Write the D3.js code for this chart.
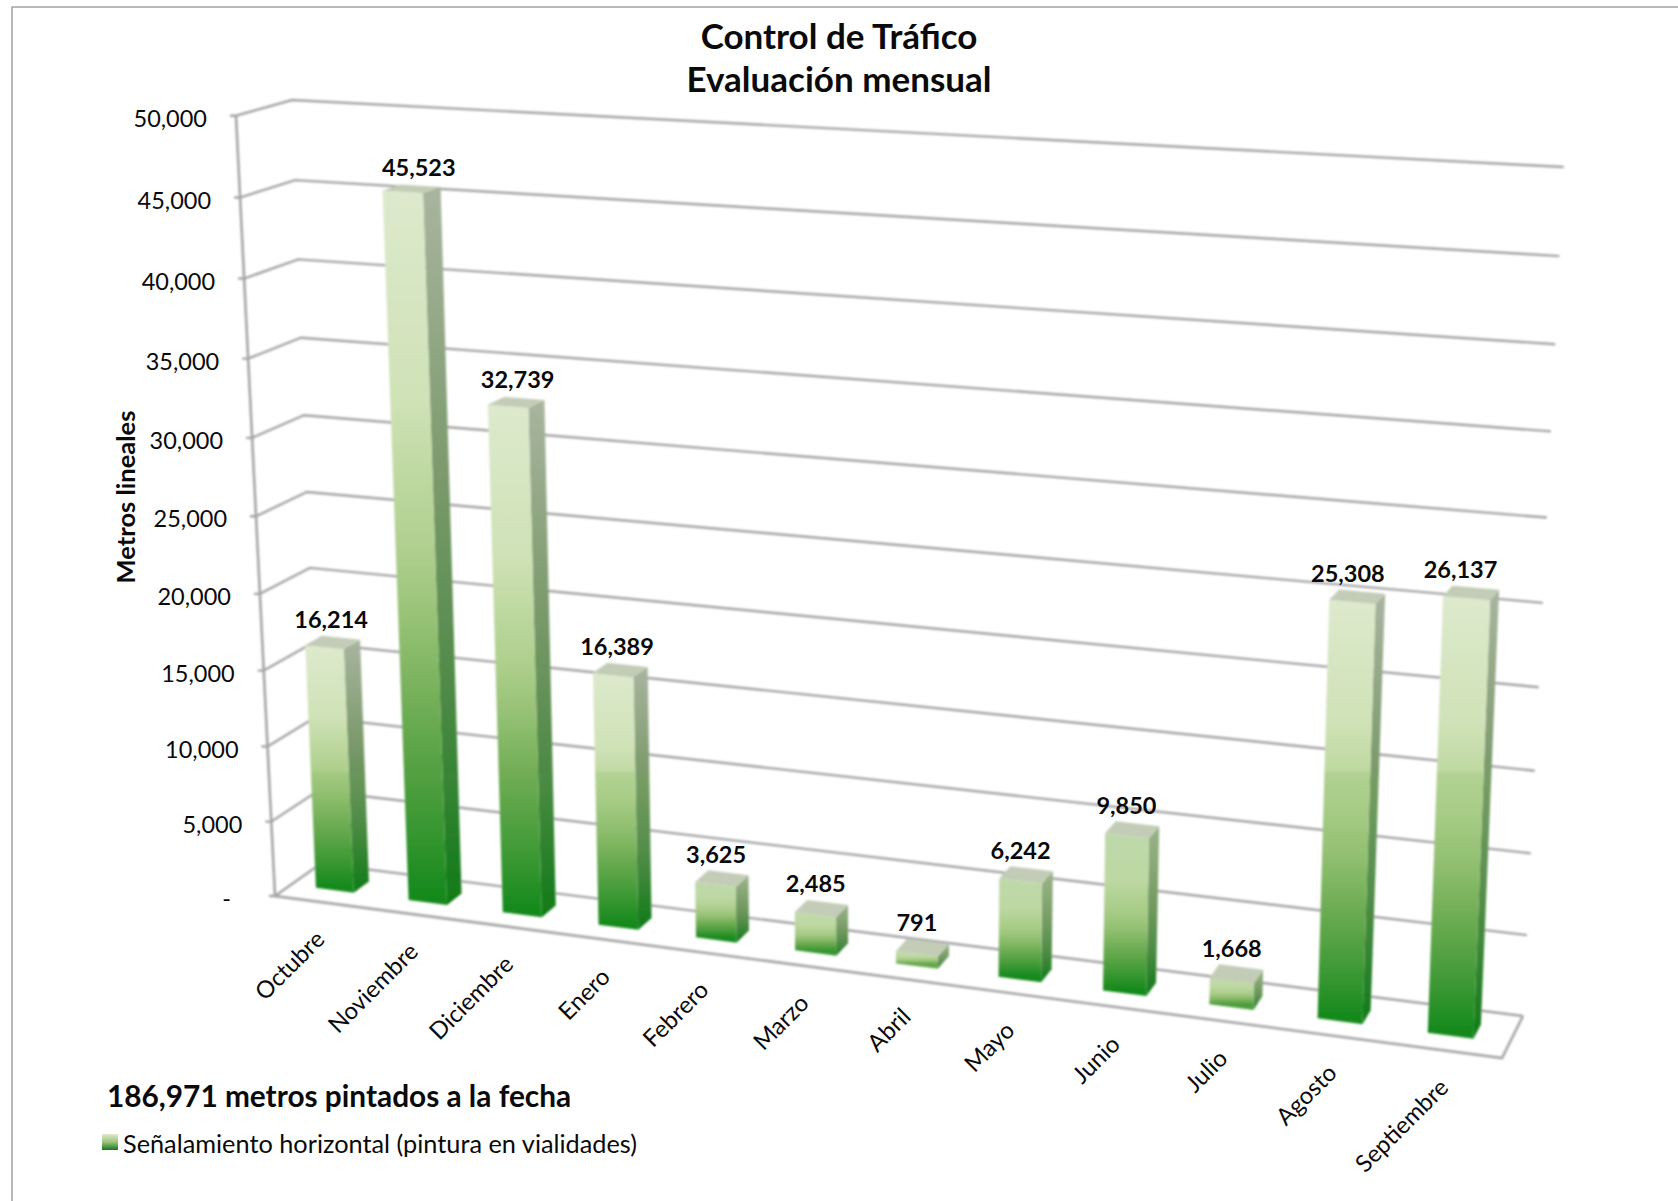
<!DOCTYPE html>
<html>
<head>
<meta charset="utf-8">
<title>Control de Tráfico</title>
<script src="https://cdnjs.cloudflare.com/ajax/libs/d3/7.8.5/d3.min.js"></script>
<style>
  html, body { margin: 0; padding: 0; background: #fff; }
  text { font-family: Lato, "Open Sans", sans-serif; fill: #0a0a0a; }
</style>
</head>
<body>
<script>
// data
var months = ["Octubre", "Noviembre", "Diciembre", "Enero", "Febrero", "Marzo", "Abril", "Mayo", "Junio", "Julio", "Agosto", "Septiembre"];
var metros = [16214, 45523, 32739, 16389, 3625, 2485, 791, 6242, 9850, 1668, 25308, 26137];
var yTicks = [0, 5000, 10000, 15000, 20000, 25000, 30000, 35000, 40000, 45000, 50000];

var width = 1678, height = 1201;

// corners of the 3d box on screen: F/B front/back, L/R left/right, T/B top/bottom
var FLT = [236, 115.7], BLT = [292, 100], FRT = [1533.6, 187], BRT = [1563.6, 167],
  FLB = [275, 896], BLB = [321, 863.5], FRB = [1502, 1058], BRB = [1523, 1016];

var uScale = d3.scaleBand().domain(months).range([-0.002, 0.998]).paddingInner(0.59).paddingOuter(0.295);
var vScale = d3.scaleLinear().domain([0, 50000]).range([0, 1]);
var barDepth = [0.35, 0.69];

// perspective squeeze along an axis
function warp(t, k) {
  return t / (1 + k * (1 - t));
}

function lerp(a, b, t) {
  return [a[0] + (b[0] - a[0]) * t, a[1] + (b[1] - a[1]) * t];
}

// u along months, v up the value axis, d from front to back
function project(u, v, d) {
  var fu = warp(u, 0.11), fv = warp(v, 0.055);
  var bottom = lerp(lerp(FLB, FRB, fu), lerp(BLB, BRB, fu), d);
  var top = lerp(lerp(FLT, FRT, fu), lerp(BLT, BRT, fu), d);
  return lerp(bottom, top, fv);
}

var svg = d3.select("body").append("svg")
  .attr("width", width)
  .attr("height", height)
  .style("display", "block");

var defs = svg.append("defs");
defs.append("filter")
  .attr("id", "soft")
  .attr("filterUnits", "userSpaceOnUse")
  .attr("x", 0).attr("y", 0).attr("width", width).attr("height", height)
  .append("feGaussianBlur")
  .attr("stdDeviation", 0.8);

// outer frame, only top and left show
svg.append("path")
  .attr("d", d3.line()([[12, height], [12, 7], [width, 7]]))
  .attr("fill", "none")
  .attr("stroke", "#a3a3a3")
  .attr("stroke-width", 1.5);

var chart = svg.append("g").attr("filter", "url(#soft)");
var line = d3.line();
var gridColor = "#a4a4a4";

// walls and floor
yTicks.forEach(function (t) {
  var v = vScale(t);
  chart.append("path")
    .attr("d", line([[project(0, v, 0)[0] - 6, project(0, v, 0)[1]], project(0, v, 0), project(0, v, 1), project(1, v, 1)]))
    .attr("fill", "none")
    .attr("stroke", gridColor)
    .attr("stroke-width", 2.4);
});
chart.append("path")
  .attr("d", line([FLT, FLB, FRB, BRB]))
  .attr("fill", "none")
  .attr("stroke", gridColor)
  .attr("stroke-width", 2.6);

// bars colour: pale at the top, green at the foot
var frontRamp = d3.scaleLinear()
  .domain([0, 0.3, 0.55, 0.75, 1])
  .range(["#dde9cd", "#cfe2b6", "#a8cb85", "#6aa94f", "#14891c"]);
var sideRamp = d3.scaleLinear()
  .domain([0, 0.4, 0.7, 1])
  .range(["#a9b5a0", "#7c9a6c", "#4f8a48", "#0f7a16"]);
var stepY = 772; // the hard band across the tall bars

function barGradient(id, ramp, yTop, yBottom) {
  var grad = defs.append("linearGradient")
    .attr("id", id)
    .attr("gradientUnits", "userSpaceOnUse")
    .attr("x1", 0).attr("x2", 0)
    .attr("y1", yTop).attr("y2", yBottom);
  var tStep = (stepY - yTop) / (yBottom - yTop);
  // short bars never reach the full green
  var reach = Math.min(1, 0.7 + (yBottom - yTop) / 200);
  var stops = d3.range(0, 1.001, 0.1).map(function (t) { return [t, t > tStep]; });
  if (tStep > 0 && tStep < 1) {
    stops.push([tStep, false], [tStep, true]);
    stops.sort(function (a, b) { return a[0] - b[0] || a[1] - b[1]; });
  }
  stops.forEach(function (s) {
    var c = ramp(s[0] * reach);
    grad.append("stop")
      .attr("offset", s[0])
      .attr("stop-color", s[1] ? d3.interpolateRgb(c, "#72b050")(0.28 * (1 - s[0])) : c);
  });
}

var bars = chart.selectAll("g.bar")
  .data(months.map(function (m, i) { return {month: m, value: metros[i], i: i}; }))
  .enter().append("g")
  .attr("class", "bar");

bars.each(function (d) {
  var g = d3.select(this),
    u0 = uScale(d.month),
    u1 = u0 + uScale.bandwidth(),
    v = vScale(d.value),
    d0 = barDepth[0],
    d1 = barDepth[1];

  var front = [project(u0, 0, d0), project(u1, 0, d0), project(u1, v, d0), project(u0, v, d0)];
  var side = [project(u1, 0, d0), project(u1, 0, d1), project(u1, v, d1), project(u1, v, d0)];
  var top = [project(u0, v, d0), project(u1, v, d0), project(u1, v, d1), project(u0, v, d1)];

  barGradient("front" + d.i, frontRamp, front[3][1], front[0][1]);
  barGradient("side" + d.i, sideRamp, side[2][1], side[0][1]);

  g.append("path").attr("d", line(side) + "Z").attr("fill", "url(#side" + d.i + ")");
  g.append("path").attr("d", line(front) + "Z").attr("fill", "url(#front" + d.i + ")");
  g.append("path").attr("d", line(top) + "Z").attr("fill", "#c2ccb6");
});

// value axis labels
var fmt = d3.format(",");
svg.selectAll("text.ytick")
  .data(yTicks)
  .enter().append("text")
  .attr("class", "ytick")
  .attr("x", function (t) { return project(0, vScale(t), 0)[0] - (t === 0 ? 44 : 29); })
  .attr("y", function (t) { return project(0, vScale(t), 0)[1] + 11; })
  .attr("text-anchor", "end")
  .attr("font-size", 23.5)
  .text(function (t) { return t === 0 ? "-" : fmt(t); });

// month labels
svg.selectAll("text.month")
  .data(months)
  .enter().append("text")
  .attr("class", "month")
  .attr("transform", function (m) {
    var p = project(uScale(m) + uScale.bandwidth() / 2, 0, 0);
    return "translate(" + (p[0] + 7) + "," + (p[1] + 39) + ")rotate(-45)";
  })
  .attr("text-anchor", "end")
  .attr("font-size", 23.8)
  .text(function (m) { return m; });

// value labels above the bars, they lean less than the bars do
svg.selectAll("text.value")
  .data(months)
  .enter().append("text")
  .attr("class", "value")
  .attr("x", function (m, i) {
    var u = uScale(m) + uScale.bandwidth() / 2, v = vScale(metros[i]);
    return project(u, v, barDepth[0])[0] + 22 * v * (1 - 1.6 * u);
  })
  .attr("y", function (m, i) { return project(uScale(m) + uScale.bandwidth() / 2, vScale(metros[i]), barDepth[1])[1] - 10; })
  .attr("text-anchor", "middle")
  .attr("font-size", 23.5)
  .attr("font-weight", 700)
  .text(function (m, i) { return fmt(metros[i]); });

// titles
svg.append("text")
  .attr("x", 839).attr("y", 49)
  .attr("text-anchor", "middle")
  .attr("font-size", 35)
  .attr("font-weight", 700)
  .text("Control de Tráfico");
svg.append("text")
  .attr("x", 839).attr("y", 92)
  .attr("text-anchor", "middle")
  .attr("font-size", 35)
  .attr("font-weight", 700)
  .text("Evaluación mensual");

svg.append("text")
  .attr("transform", "translate(135,497)rotate(-90)")
  .attr("text-anchor", "middle")
  .attr("font-size", 25.5)
  .attr("font-weight", 700)
  .text("Metros lineales");

svg.append("text")
  .attr("x", 107).attr("y", 1107)
  .attr("font-size", 29.8)
  .attr("font-weight", 700)
  .text(fmt(d3.sum(metros)) + " metros pintados a la fecha");

// legend
var legendGrad = defs.append("linearGradient")
  .attr("id", "legendFill")
  .attr("x1", 0).attr("x2", 0).attr("y1", 0).attr("y2", 1);
legendGrad.append("stop").attr("offset", 0).attr("stop-color", "#dfeacd");
legendGrad.append("stop").attr("offset", 0.5).attr("stop-color", "#9cc47c");
legendGrad.append("stop").attr("offset", 1).attr("stop-color", "#14791c");

svg.append("rect")
  .attr("x", 102).attr("y", 1134)
  .attr("width", 16).attr("height", 16)
  .attr("fill", "url(#legendFill)");
svg.append("text")
  .attr("x", 123).attr("y", 1153)
  .attr("font-size", 25.3)
  .text("Señalamiento horizontal (pintura en vialidades)");
</script>
</body>
</html>
